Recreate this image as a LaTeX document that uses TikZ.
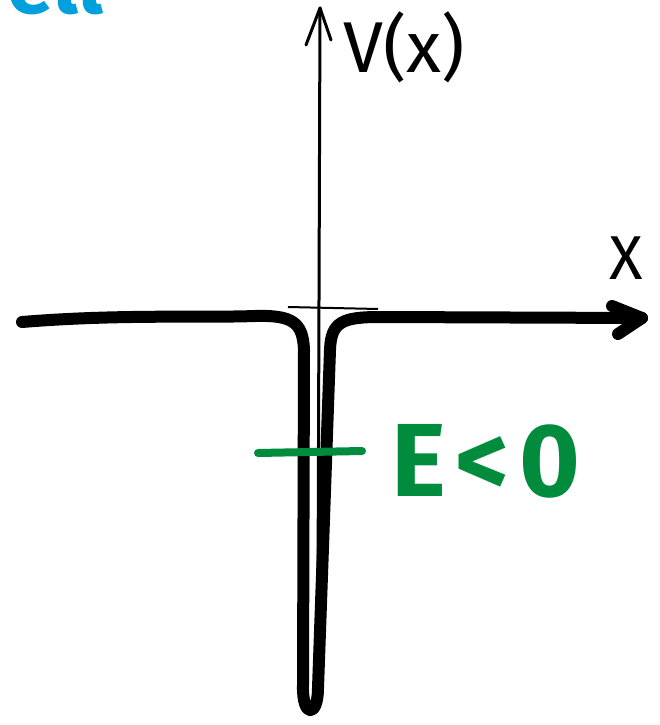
\documentclass[tikz,border=0pt]{standalone}
\usepackage{fontspec}
\setmainfont{Fira Sans}
\usetikzlibrary{calc}
\definecolor{wellblue}{RGB}{0,160,220}
\definecolor{levelgreen}{RGB}{0,140,60}
\tikzset{
  axisline/.style={line width=3pt,line cap=round,line join=round},
  wellline/.style={line width=12pt,line cap=round,line join=round},
  handtext/.style={inner sep=0pt}
}

\begin{document}
\begin{tikzpicture}[x=1pt,y=-1pt]
    \useasboundingbox (0,0) rectangle (659,725);

    \node[handtext,text=wellblue,font=\fontsize{84}{84}\selectfont\bfseries,anchor=base east] (wl) at (104,14) {well};
    \node[handtext,font=\fontsize{72}{72}\selectfont,anchor=west] (vx) at (343,47) {V(x)};
    \node[handtext,font=\fontsize{62}{62}\selectfont] (xx) at (626,258) {X};
    \node[handtext,text=levelgreen,font=\fontsize{104}{104}\selectfont\bfseries,anchor=west] (en) at (391,461) {E\hspace{10pt}<\hspace{10pt}0};

    \coordinate (ytop) at (320,8);
    \coordinate (ybot) at (318,590);
    \coordinate (xl) at (288,307);
    \coordinate (xr) at (378,309);
    \coordinate (xtip) at (642,318);
    \coordinate (el) at (258,453);
    \coordinate (er) at (362,451);

    \draw[axisline] (ybot) -- (ytop);
    \draw[axisline] ($(ytop)+(-14,37)$) -- (ytop) -- ($(ytop)+(11,32)$);
    \draw[line width=2pt] (xl) -- (xr);

    \draw[wellline] (22,322) .. controls (120,314) and (200,318) .. (255,316)
        .. controls (292,315) and (303,322) .. (304,350) -- (303,685)
        .. controls (302,718) and (318,718) .. (318,688) -- (330,350)
        .. controls (331,322) and (342,317) .. (380,317) -- (xtip);
    \draw[wellline] ($(xtip)+(-30,-12)$) -- (xtip) -- ($(xtip)+(-24,16)$);

    \draw[line width=8pt,line cap=round,levelgreen] (el) -- (er);
\end{tikzpicture}
\end{document}
